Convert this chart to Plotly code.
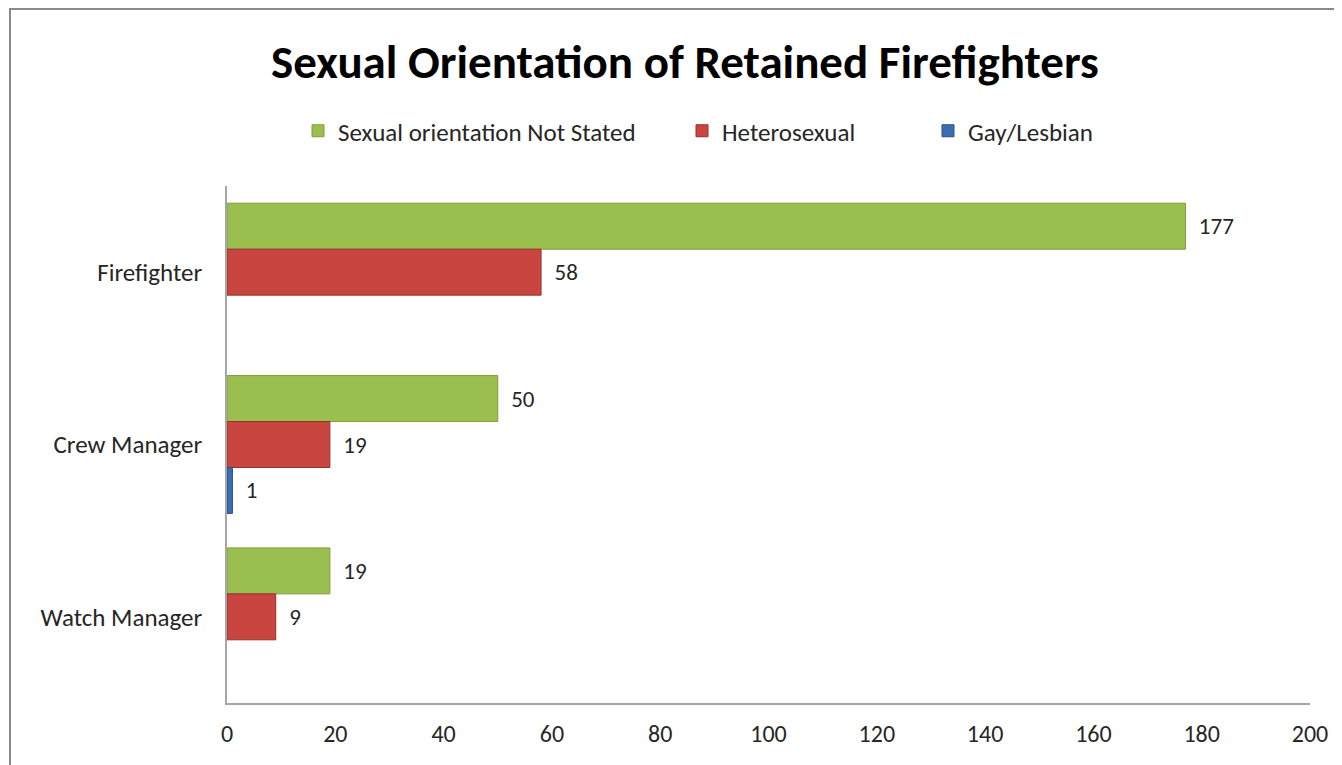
import plotly.graph_objects as go

# data
roles = ["Firefighter", "Crew Manager", "Watch Manager"]
not_stated = [177, 50, 19]
heterosexual = [58, 19, 9]
gay_lesbian = [None, 1, None]

x_ticks = list(range(0, 201, 20))

font_family = "Carlito, Lato, 'Open Sans', sans-serif"

# page body adds an 8px offset, so pixel targets are shifted by 8
OFF = 8
L, R, T, B = 227 - OFF, 32 + OFF, 186 - OFF, 62 + OFF
pw, ph = 1342 - L - R, 765 - T - B

fig = go.Figure()

series = [
    ("Sexual orientation Not Stated", not_stated, "#9bbf4e", "#7f9e3a", "legend", 338),
    ("Heterosexual", heterosexual, "#c84540", "#9a2f2b", "legend2", 722),
    ("Gay/Lesbian", gay_lesbian, "#3b6db0", "#28508a", "legend3", 968),
]
legends = {}
for name, vals, col, edge, leg, text_x in series:
    fig.add_trace(go.Bar(
        y=roles, x=vals, name=name, orientation="h", legend=leg,
        marker=dict(color=col, line=dict(color=edge, width=1)),
        text=["  " + str(v) if v is not None else "" for v in vals],
        textposition="outside", cliponaxis=False,
        textfont=dict(size=23, color="#262626"),
    ))
    legends[leg] = dict(orientation="h", xref="container", yref="container",
                        x=(text_x - 40 - OFF) / 1342, xanchor="left",
                        y=1 - (131 - OFF) / 765, yanchor="middle",
                        font=dict(size=25, color="#262626"), itemwidth=30)

# outer chart border (partly cut off at right/bottom like the screenshot)
fig.add_shape(type="rect", xref="paper", yref="paper",
              x0=(10 - OFF - L) / pw, x1=(1360 - L) / pw,
              y0=(765 - B - 780) / ph, y1=(765 - B - (9 - OFF)) / ph,
              line=dict(color="#8a8a8a", width=2), layer="below")

fig.update_layout(
    width=1342, height=765,
    margin=dict(l=L, r=R, t=T, b=B),
    paper_bgcolor="white", plot_bgcolor="white",
    font=dict(family=font_family, color="#262626"),
    title=dict(text="<b>Sexual Orientation of Retained Firefighters</b>",
               x=(685 - OFF) / 1342, xanchor="center", y=1 - (62 - OFF) / 765, yanchor="middle",
               yref="container", font=dict(size=47, color="black")),
    barmode="group", bargap=0.2, bargroupgap=0,
    showlegend=True,
    xaxis=dict(range=[0, 200], tickvals=x_ticks, showgrid=False, zeroline=False,
               showline=True, linecolor="#a6a6a6", linewidth=1.5,
               ticks="", tickfont=dict(size=24, color="#262626"), ticklabelstandoff=8),
    yaxis=dict(autorange="reversed", showgrid=False, showline=True,
               linecolor="#a6a6a6", linewidth=1.5, ticks="",
               tickfont=dict(size=25, color="#262626"), ticklabelstandoff=18),
    **legends,
)

fig.write_html("out.html")
